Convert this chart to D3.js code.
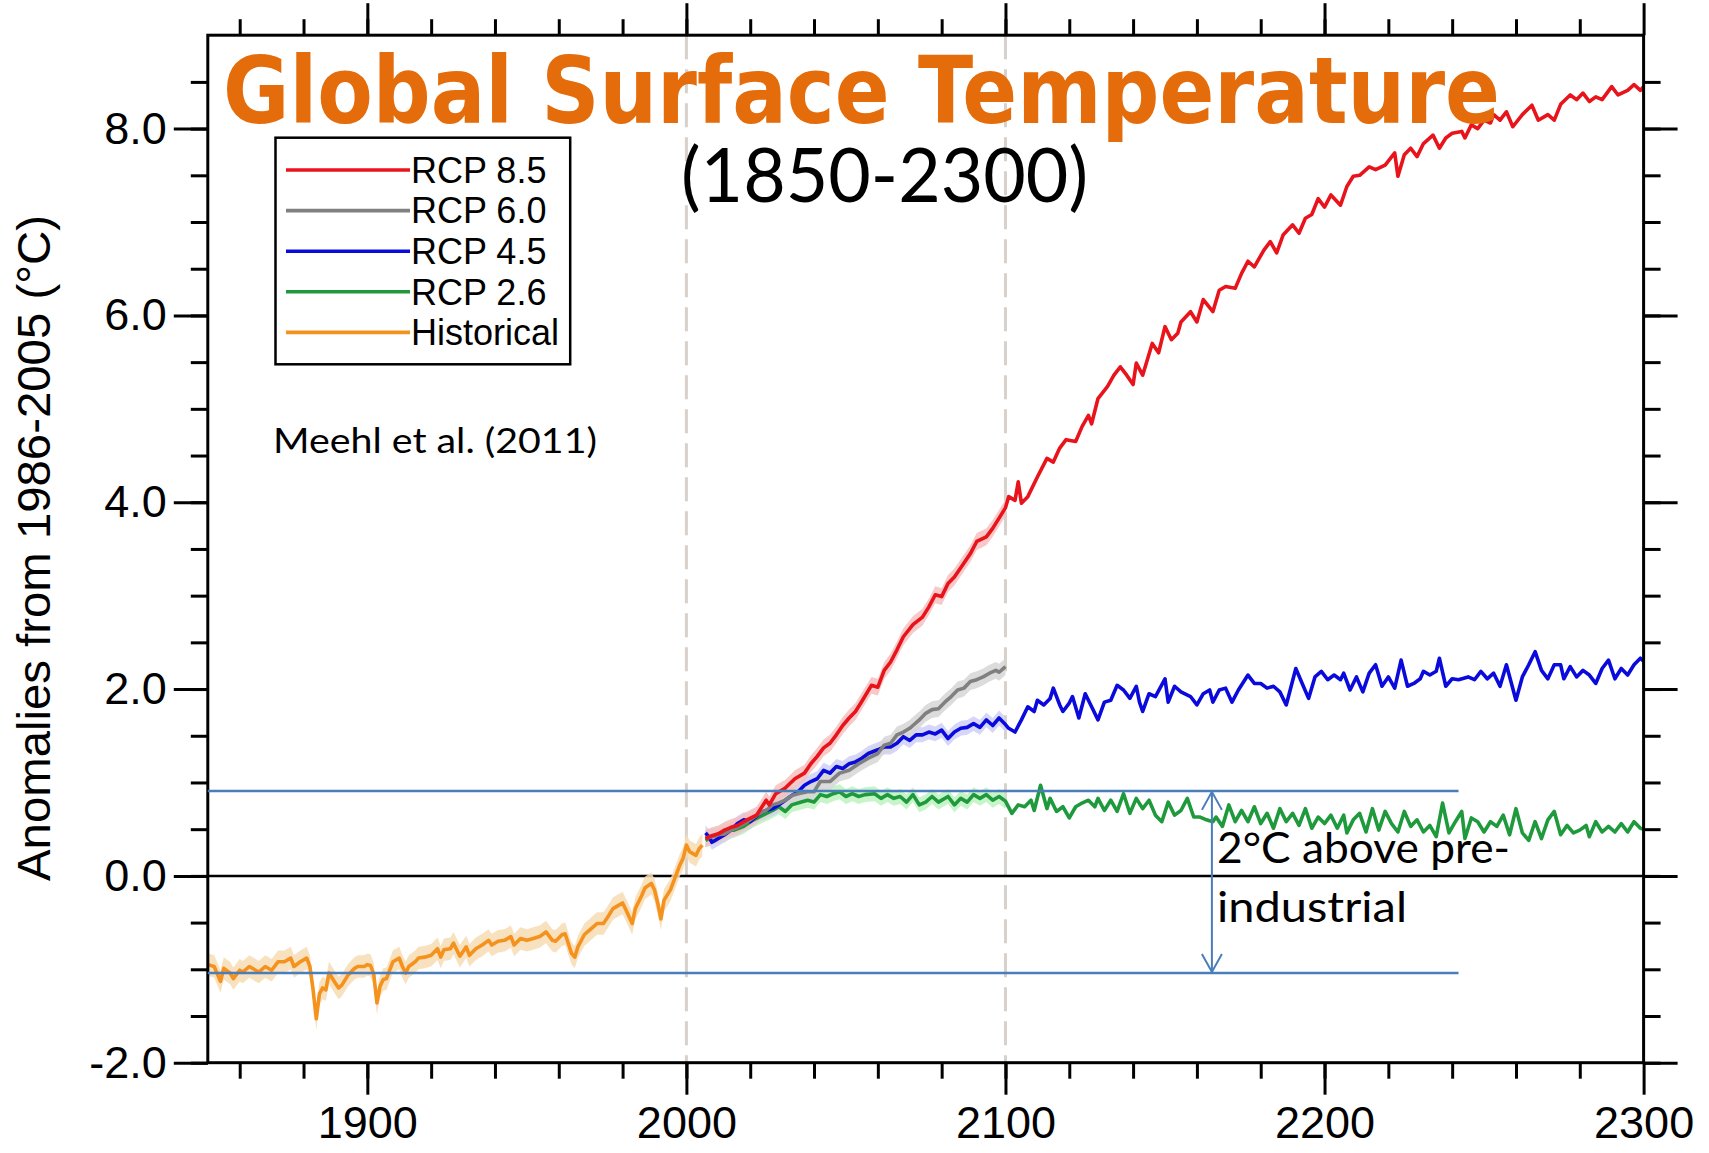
<!DOCTYPE html>
<html><head><meta charset="utf-8">
<script src="https://cdn.jsdelivr.net/npm/d3@7"></script>
<style>body{margin:0;background:#fff}svg{display:block}</style>
</head><body>
<svg id="chart" width="1709" height="1153"></svg>
<script>
// ---------------- DATA ----------------
const historical = [[1850,-0.95],[1852,-0.97],[1854,-1.13],[1855,-0.99],[1857,-1.04],[1858,-1.10],[1860,-1.01],[1861,-1.03],[1863,-0.97],[1865,-1.01],
[1866,-1.03],[1868,-0.97],[1870,-1.01],[1872,-0.92],[1874,-0.92],[1876,-0.88],[1877,-0.97],[1879,-0.92],[1881,-0.88],[1882,-0.97],
[1883,-1.22],[1884,-1.53],[1885,-1.26],[1886,-1.20],[1887,-1.22],[1888,-1.04],[1890,-1.15],[1891,-1.20],[1892,-1.17],[1894,-1.06],
[1896,-0.99],[1897,-0.97],[1899,-0.97],[1900,-0.95],[1901,-0.96],[1902,-1.05],[1903,-1.36],[1904,-1.18],[1905,-1.11],[1906,-1.10],
[1908,-0.92],[1910,-0.88],[1911,-0.97],[1912,-1.04],[1913,-0.97],[1915,-0.92],[1916,-0.88],[1918,-0.87],[1920,-0.85],[1922,-0.78],
[1923,-0.87],[1924,-0.79],[1926,-0.78],[1927,-0.72],[1929,-0.86],[1931,-0.76],[1932,-0.85],[1934,-0.78],[1936,-0.74],[1938,-0.69],
[1939,-0.74],[1941,-0.70],[1943,-0.69],[1945,-0.65],[1946,-0.74],[1948,-0.67],[1950,-0.69],[1952,-0.67],[1954,-0.65],[1956,-0.60],
[1958,-0.69],[1959,-0.70],[1961,-0.63],[1962,-0.62],[1964,-0.83],[1965,-0.87],[1966,-0.76],[1968,-0.63],[1969,-0.60],[1971,-0.54],
[1972,-0.51],[1974,-0.51],[1975,-0.46],[1977,-0.35],[1979,-0.31],[1980,-0.29],[1981,-0.36],[1983,-0.51],[1984,-0.35],[1986,-0.21],
[1987,-0.13],[1989,-0.08],[1990,-0.15],[1991,-0.29],[1992,-0.46],[1993,-0.26],[1995,-0.15],[1996,-0.06],[1998,0.12],[1999,0.19],
[2000,0.33],[2001,0.26],[2003,0.22],[2004,0.29],[2005,0.33]];

const rcp85 = [[2006,0.40],[2008,0.43],[2010,0.45],[2012,0.49],[2014,0.52],[2016,0.54],[2019,0.60],[2022,0.65],[2025,0.81],[2026,0.76],
[2028,0.88],[2031,0.94],[2034,1.04],[2037,1.10],[2039,1.20],[2041,1.28],[2043,1.37],[2045,1.42],[2047,1.51],[2049,1.61],
[2051,1.69],[2053,1.76],[2055,1.87],[2058,2.04],[2060,2.02],[2062,2.20],[2064,2.29],[2066,2.42],[2068,2.56],[2071,2.69],
[2074,2.77],[2076,2.88],[2078,3.01],[2080,2.99],[2082,3.13],[2084,3.20],[2087,3.35],[2089,3.45],[2091,3.58],[2094,3.63],
[2096,3.72],[2098,3.83],[2100,3.94],[2101,4.06],[2103,4.02],[2104,4.22],[2105,3.99],[2107,4.06],[2110,4.27],[2113,4.47],
[2115,4.43],[2117,4.58],[2119,4.67],[2122,4.65],[2124,4.81],[2126,4.93],[2127,4.84],[2129,5.11],[2132,5.24],[2134,5.36],
[2136,5.45],[2138,5.36],[2140,5.26],[2141,5.49],[2143,5.36],[2146,5.70],[2148,5.60],[2150,5.88],[2152,5.74],[2154,5.81],
[2155,5.93],[2158,6.04],[2160,5.93],[2162,6.17],[2165,6.04],[2167,6.27],[2169,6.31],[2172,6.29],[2174,6.45],[2176,6.58],
[2178,6.52],[2181,6.70],[2183,6.79],[2185,6.67],[2187,6.86],[2190,6.97],[2192,6.88],[2194,7.04],[2196,7.08],[2198,7.25],
[2200,7.16],[2202,7.29],[2205,7.18],[2207,7.38],[2209,7.49],[2211,7.50],[2214,7.59],[2216,7.56],[2219,7.61],[2222,7.74],
[2223,7.49],[2225,7.72],[2227,7.79],[2229,7.70],[2231,7.84],[2234,7.93],[2236,7.79],[2238,7.90],[2240,7.95],[2243,7.97],
[2244,7.90],[2246,8.04],[2248,8.00],[2250,8.09],[2252,8.06],[2253,8.15],[2255,8.09],[2257,8.18],[2259,8.02],[2262,8.15],
[2265,8.25],[2267,8.09],[2270,8.15],[2272,8.09],[2274,8.26],[2277,8.36],[2279,8.31],[2281,8.38],[2283,8.29],[2285,8.34],
[2287,8.31],[2290,8.45],[2292,8.36],[2295,8.41],[2297,8.47],[2299,8.41],[2300,8.45]];

const rcp60 = [[2006,0.40],[2008,0.42],[2010,0.44],[2012,0.45],[2014,0.49],[2016,0.52],[2018,0.56],[2020,0.60],[2023,0.67],[2025,0.70],
[2027,0.76],[2029,0.78],[2031,0.81],[2033,0.86],[2035,0.88],[2038,0.90],[2040,0.90],[2042,1.01],[2045,1.01],[2048,1.10],
[2051,1.13],[2054,1.20],[2057,1.26],[2060,1.31],[2062,1.40],[2064,1.42],[2066,1.51],[2068,1.54],[2070,1.58],[2071,1.61],
[2073,1.67],[2075,1.74],[2077,1.78],[2079,1.79],[2081,1.86],[2083,1.92],[2085,1.99],[2087,2.01],[2089,2.08],[2091,2.10],
[2093,2.13],[2095,2.17],[2097,2.20],[2098,2.18],[2100,2.24]];

const rcp45 = [[2006,0.46],[2007,0.42],[2008,0.36],[2009,0.38],[2010,0.40],[2012,0.44],[2014,0.49],[2016,0.56],[2018,0.60],[2020,0.58],
[2022,0.64],[2023,0.67],[2025,0.70],[2027,0.72],[2029,0.76],[2031,0.81],[2033,0.86],[2035,0.90],[2037,0.97],[2039,1.01],
[2041,1.04],[2043,1.13],[2045,1.10],[2047,1.17],[2049,1.15],[2051,1.20],[2053,1.22],[2055,1.26],[2057,1.31],[2060,1.35],
[2062,1.38],[2064,1.38],[2066,1.42],[2068,1.49],[2070,1.45],[2072,1.51],[2074,1.51],[2076,1.54],[2078,1.52],[2080,1.56],
[2082,1.47],[2084,1.54],[2086,1.58],[2088,1.59],[2090,1.63],[2092,1.59],[2094,1.67],[2096,1.61],[2098,1.69],[2100,1.62],
[2101,1.58],[2103,1.54],[2105,1.67],[2107,1.81],[2109,1.76],[2110,1.88],[2112,1.83],[2114,1.90],[2115,2.01],[2117,1.83],
[2118,1.76],[2120,1.85],[2121,1.92],[2123,1.69],[2125,1.95],[2127,1.81],[2129,1.67],[2131,1.86],[2133,1.88],[2135,2.04],
[2137,1.99],[2139,1.90],[2141,2.03],[2142,1.86],[2143,1.76],[2145,1.95],[2147,1.92],[2150,2.11],[2151,1.86],[2153,2.03],
[2155,1.97],[2158,1.92],[2160,1.83],[2162,1.95],[2164,1.99],[2165,1.86],[2167,1.99],[2169,2.01],[2171,1.86],[2173,1.99],
[2176,2.15],[2178,2.06],[2180,2.06],[2182,2.01],[2184,2.03],[2186,1.97],[2188,1.83],[2191,2.22],[2193,2.06],[2195,1.90],
[2197,2.13],[2199,2.19],[2201,2.10],[2203,2.15],[2205,2.10],[2206,2.17],[2208,1.99],[2210,2.13],[2212,1.97],[2214,2.17],
[2216,2.26],[2218,2.03],[2220,2.13],[2222,2.01],[2224,2.31],[2226,2.03],[2228,2.06],[2230,2.11],[2231,2.19],[2233,2.15],
[2235,2.19],[2236,2.33],[2238,2.03],[2240,2.11],[2242,2.10],[2245,2.13],[2247,2.10],[2249,2.19],[2251,2.11],[2253,2.17],
[2255,2.03],[2257,2.26],[2260,1.88],[2262,2.13],[2264,2.26],[2266,2.40],[2268,2.20],[2270,2.11],[2272,2.26],[2274,2.26],
[2275,2.11],[2277,2.24],[2279,2.13],[2281,2.20],[2283,2.15],[2285,2.06],[2287,2.22],[2289,2.31],[2291,2.11],[2293,2.22],
[2295,2.15],[2297,2.26],[2299,2.33],[2300,2.30]];

const rcp26 = [[2006,0.38],[2008,0.42],[2010,0.44],[2012,0.49],[2015,0.49],[2018,0.53],[2021,0.60],[2024,0.65],[2027,0.70],[2029,0.74],
[2031,0.69],[2033,0.76],[2036,0.79],[2038,0.81],[2040,0.79],[2042,0.87],[2044,0.85],[2046,0.88],[2048,0.90],[2050,0.85],
[2052,0.88],[2054,0.85],[2056,0.87],[2059,0.88],[2061,0.83],[2063,0.87],[2065,0.83],[2067,0.85],[2069,0.79],[2071,0.87],
[2073,0.76],[2075,0.79],[2077,0.85],[2079,0.79],[2082,0.85],[2084,0.76],[2086,0.83],[2088,0.79],[2090,0.87],[2092,0.83],
[2094,0.87],[2096,0.81],[2098,0.85],[2100,0.80],[2102,0.67],[2104,0.76],[2106,0.74],[2108,0.81],[2109,0.70],[2111,0.97],
[2113,0.72],[2114,0.83],[2116,0.69],[2118,0.74],[2120,0.62],[2122,0.74],[2124,0.78],[2126,0.81],[2128,0.74],[2129,0.83],
[2131,0.70],[2133,0.81],[2135,0.69],[2137,0.88],[2139,0.67],[2141,0.83],[2143,0.72],[2145,0.81],[2147,0.65],[2149,0.58],
[2151,0.79],[2153,0.65],[2155,0.70],[2157,0.83],[2159,0.63],[2161,0.63],[2163,0.60],[2165,0.58],[2166,0.63],[2168,0.53],
[2170,0.76],[2172,0.58],[2174,0.70],[2176,0.58],[2178,0.74],[2180,0.56],[2182,0.67],[2184,0.51],[2186,0.72],[2188,0.58],
[2190,0.67],[2192,0.54],[2194,0.72],[2196,0.51],[2198,0.63],[2200,0.56],[2202,0.65],[2204,0.51],[2206,0.65],[2207,0.46],
[2209,0.60],[2211,0.67],[2213,0.47],[2215,0.72],[2217,0.49],[2219,0.69],[2221,0.56],[2223,0.47],[2225,0.69],[2227,0.53],
[2229,0.60],[2231,0.47],[2233,0.54],[2235,0.42],[2237,0.78],[2239,0.46],[2241,0.58],[2243,0.69],[2244,0.40],[2246,0.62],
[2248,0.58],[2250,0.47],[2252,0.58],[2254,0.53],[2256,0.65],[2258,0.44],[2260,0.72],[2262,0.46],[2264,0.38],[2266,0.58],
[2268,0.40],[2270,0.60],[2272,0.69],[2274,0.44],[2276,0.54],[2278,0.46],[2280,0.49],[2282,0.54],[2283,0.42],[2285,0.58],
[2287,0.47],[2289,0.53],[2291,0.47],[2293,0.56],[2295,0.47],[2297,0.58],[2299,0.51],[2300,0.50]];

// spread (half width) of the shaded model ranges, and the year they stop
const bandHalfWidths = [0.12, 0.09, 0.09, 0.08, 0.08]; // hist, 8.5, 6.0, 4.5, 2.6
const bandEndYear = 2100;

const xMajorTicks = [1900, 2000, 2100, 2200, 2300];
const xTickLabels = ["1900", "2000", "2100", "2200", "2300"];
const yMajorTicks = [-2, 0, 2, 4, 6, 8];
const yTickLabels = ["-2.0", "0.0", "2.0", "4.0", "6.0", "8.0"];
const legendLabels = ["RCP 8.5", "RCP 6.0", "RCP 4.5", "RCP 2.6", "Historical"];
const markYears = [2000, 2100];
const twoDegreeLevels = [0.91, -1.04];
const twoDegreeEndYear = 2242;
const arrowYear = 2164.7;

// ---------------- DRAWING ----------------
const svg = d3.select("#chart");
svg.append("rect").attr("width", 1709).attr("height", 1153).attr("fill", "#fff");

const x = d3.scaleLinear().domain([1850, 2300]).range([207.8, 1643.6]);
const y = d3.scaleLinear().domain([-2, 9]).range([1062.7, 35.2]);
const axFont = "'Liberation Sans', Arial, Helvetica, sans-serif";
const calFont = "Lato, 'Open Sans', sans-serif";
const lineW = 3.6;

svg.append("defs").append("clipPath").attr("id", "plotclip")
  .append("rect").attr("x", x(1850)).attr("y", y(9)).attr("width", x(2300) - x(1850)).attr("height", y(-2) - y(9));

// dashed vertical marks
svg.append("g").selectAll("line").data(markYears).join("line")
  .attr("x1", d => x(d)).attr("x2", d => x(d)).attr("y1", y(9)).attr("y2", y(-2))
  .attr("stroke", "#d8d0ca").attr("stroke-width", 3).attr("stroke-dasharray", "24,10");

// zero line
svg.append("line").attr("x1", x(1850)).attr("x2", x(2300)).attr("y1", y(0)).attr("y2", y(0))
  .attr("stroke", "#000").attr("stroke-width", 2.5);

const series = [
  {name: "Historical", data: historical, color: "#f5921e", band: "#f7dcb4", half: bandHalfWidths[0]},
  {name: "RCP 2.6", data: rcp26, color: "#1e9a3c", band: "#bdf2c0", half: bandHalfWidths[4]},
  {name: "RCP 4.5", data: rcp45, color: "#0a0adc", band: "#cfd0f7", half: bandHalfWidths[3]},
  {name: "RCP 6.0", data: rcp60, color: "#808080", band: "#d6d6d6", half: bandHalfWidths[2]},
  {name: "RCP 8.5", data: rcp85, color: "#e8131b", band: "#f6c0c0", half: bandHalfWidths[1]}
];
const plot = svg.append("g").attr("clip-path", "url(#plotclip)");
const area = h => d3.area().x(d => x(d[0])).y0(d => y(d[1] - h)).y1(d => y(d[1] + h));
const line = d3.line().x(d => x(d[0])).y(d => y(d[1]));

series.forEach(s => {
  plot.append("path").datum(s.data.filter(d => d[0] <= bandEndYear))
    .attr("d", area(s.half)).attr("fill", s.band).attr("opacity", 0.85);
});
series.forEach(s => {
  plot.append("path").datum(s.data).attr("d", line)
    .attr("fill", "none").attr("stroke", s.color).attr("stroke-width", lineW).attr("stroke-linejoin", "round");
});

// axes
function styleAxis(g) {
  g.select(".domain").remove();
  g.selectAll("line").attr("stroke", "#000").attr("stroke-width", 3);
  g.selectAll("text").attr("font-family", axFont).attr("font-size", 45).attr("fill", "#000");
}
const xMinor = d3.range(1860, 2300, 20);
const yMinor = d3.range(-2, 9, 0.5);
const xLab = d => xTickLabels[xMajorTicks.indexOf(d)];
const yLab = d => yTickLabels[yMajorTicks.indexOf(d)];

svg.append("g").attr("transform", `translate(0,${y(-2)})`)
  .call(d3.axisBottom(x).tickValues(xMinor).tickSize(16).tickSizeOuter(0).tickFormat("")).call(styleAxis);
svg.append("g").attr("transform", `translate(0,${y(-2)})`)
  .call(d3.axisBottom(x).tickValues(xMajorTicks).tickSize(32).tickPadding(11).tickSizeOuter(0).tickFormat(xLab)).call(styleAxis);
svg.append("g").attr("transform", `translate(0,${y(9)})`)
  .call(d3.axisTop(x).tickValues(xMinor).tickSize(16).tickSizeOuter(0).tickFormat("")).call(styleAxis);
svg.append("g").attr("transform", `translate(0,${y(9)})`)
  .call(d3.axisTop(x).tickValues(xMajorTicks).tickSize(32).tickSizeOuter(0).tickFormat("")).call(styleAxis);
svg.append("g").attr("transform", `translate(${x(1850)},0)`)
  .call(d3.axisLeft(y).tickValues(yMinor).tickSize(17).tickSizeOuter(0).tickFormat("")).call(styleAxis);
svg.append("g").attr("transform", `translate(${x(1850)},0)`)
  .call(d3.axisLeft(y).tickValues(yMajorTicks).tickSize(34).tickPadding(7).tickSizeOuter(0).tickFormat(yLab)).call(styleAxis);
svg.append("g").attr("transform", `translate(${x(2300)},0)`)
  .call(d3.axisRight(y).tickValues(yMinor).tickSize(17).tickSizeOuter(0).tickFormat("")).call(styleAxis);
svg.append("g").attr("transform", `translate(${x(2300)},0)`)
  .call(d3.axisRight(y).tickValues(yMajorTicks).tickSize(34).tickSizeOuter(0).tickFormat("")).call(styleAxis);

// frame
svg.append("rect").attr("x", x(1850)).attr("y", y(9)).attr("width", x(2300) - x(1850)).attr("height", y(-2) - y(9))
  .attr("fill", "none").attr("stroke", "#000").attr("stroke-width", 3);

// y axis title
svg.append("text").attr("transform", `translate(50,548) rotate(-90)`).attr("text-anchor", "middle")
  .attr("font-family", axFont).attr("font-size", 47).attr("fill", "#000")
  .attr("textLength", 666).attr("lengthAdjust", "spacingAndGlyphs")
  .text("Anomalies from 1986-2005 (°C)");

// legend
const leg = svg.append("g");
leg.append("rect").attr("x", 275.5).attr("y", 137.7).attr("width", 294.7).attr("height", 226.6)
  .attr("fill", "#fff").attr("stroke", "#000").attr("stroke-width", 2.5);
const legColors = ["#e8131b", "#808080", "#0a0adc", "#1e9a3c", "#f5921e"];
legendLabels.forEach((lab, i) => {
  const cy = 170 + i * 40.6;
  leg.append("line").attr("x1", 286).attr("x2", 410).attr("y1", cy).attr("y2", cy)
    .attr("stroke", legColors[i]).attr("stroke-width", lineW);
  leg.append("text").attr("x", 411).attr("y", cy + 12.7).attr("font-family", axFont).attr("font-size", 36)
    .attr("fill", "#000").text(lab);
});

// citation
svg.append("text").attr("x", 273).attr("y", 452.7).attr("font-family", calFont).attr("font-size", 34)
  .attr("textLength", 324).attr("lengthAdjust", "spacingAndGlyphs").attr("fill", "#000").text("Meehl et al. (2011)");

// 2 degree annotation
const ann = svg.append("g").attr("stroke", "#4a7ebb").attr("fill", "none");
twoDegreeLevels.forEach(v => {
  ann.append("line").attr("x1", x(1850)).attr("x2", x(twoDegreeEndYear)).attr("y1", y(v)).attr("y2", y(v)).attr("stroke-width", 2.5);
});
const ax = x(arrowYear), ay1 = y(twoDegreeLevels[0]), ay2 = y(twoDegreeLevels[1]);
ann.append("line").attr("x1", ax).attr("x2", ax).attr("y1", ay1).attr("y2", ay2).attr("stroke-width", 2);
ann.append("polyline").attr("points", `${ax-10},${ay1+19} ${ax},${ay1+1} ${ax+10},${ay1+19}`).attr("stroke-width", 2);
ann.append("polyline").attr("points", `${ax-10},${ay2-19} ${ax},${ay2-1} ${ax+10},${ay2-19}`).attr("stroke-width", 2);
svg.append("text").attr("x", 1217).attr("y", 862.7).attr("font-family", calFont).attr("font-size", 43)
  .attr("textLength", 293).attr("lengthAdjust", "spacingAndGlyphs").attr("fill", "#000").text("2°C above pre-");
svg.append("text").attr("x", 1217).attr("y", 921.7).attr("font-family", calFont).attr("font-size", 43)
  .attr("textLength", 190).attr("lengthAdjust", "spacingAndGlyphs").attr("fill", "#000").text("industrial");

// titles
svg.append("text").attr("x", 223).attr("y", 123).attr("font-family", "'DejaVu Sans', Verdana, sans-serif")
  .attr("font-weight", "bold").attr("font-size", 93).attr("fill", "#e46c0a")
  .attr("textLength", 1277).attr("lengthAdjust", "spacingAndGlyphs").text("Global Surface Temperature");
svg.append("text").attr("x", 681).attr("y", 201.7).attr("font-family", calFont).attr("font-size", 75)
  .attr("fill", "#000").attr("textLength", 407).attr("lengthAdjust", "spacingAndGlyphs").text("(1850-2300)");
</script>
</body></html>
